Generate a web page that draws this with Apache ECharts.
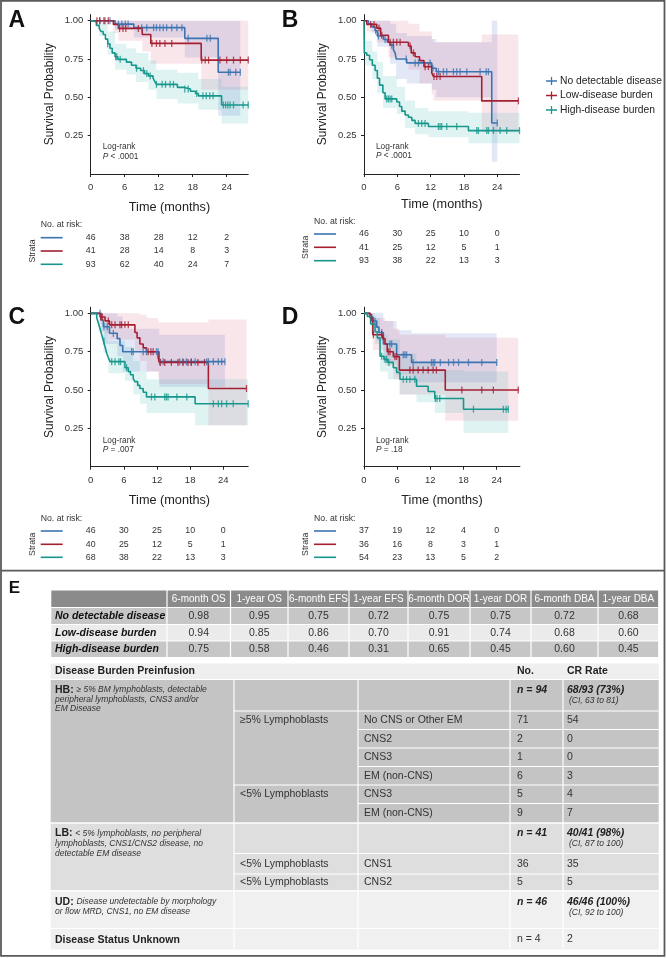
<!DOCTYPE html>
<html><head><meta charset="utf-8">
<script src="https://cdn.jsdelivr.net/npm/echarts@6/dist/echarts.min.js"></script>
<style>html,body{margin:0;padding:0;background:#fff}#c{width:667px;height:958px}</style>
</head><body><div id="c"></div>
<script>
// ---------------- DATA ----------------
const groupNames = ['No detectable disease', 'Low-disease burden', 'High-disease burden'];
const riskTimes = [0, 6, 12, 18, 24];

// Panel A (overall survival): step times, survival, censor times, CI [t, lower, upper]
const aUdT = [0, 4.3, 7.6, 16.6, 22.5];
const aUdS = [1, 0.978, 0.955, 0.885, 0.664];
const aUdCens = [1.6, 2.3, 3.4, 4.9, 5.5, 6.1, 6.6, 9.0, 9.9, 11.1, 11.6, 12.2, 12.8, 13.4, 14.3, 15.2, 16.1, 17.2, 20.5, 21.1, 24.3, 24.6, 25.6, 26.4];
const aUdCi = [[0, 1, 1], [4.3, 0.94, 1], [7.6, 0.89, 1], [16.6, 0.76, 1], [22.5, 0.38, 1]];
const aLbT = [0, 4.0, 4.9, 9.1, 10.6, 19.5];
const aLbS = [1, 0.976, 0.95, 0.91, 0.852, 0.743];
const aLbCens = [1.1, 1.6, 2.5, 3.1, 5.1, 5.7, 6.2, 8.4, 10.8, 11.6, 12.2, 13.1, 14.3, 19.6, 20.2, 20.8, 22.8, 24.0, 25.2, 26.4, 27.8];
const aLbCi = [[0, 1, 1], [4.0, 0.92, 1], [4.9, 0.87, 1], [9.1, 0.8, 1], [10.6, 0.72, 1], [19.5, 0.55, 1]];
const aHbT = [0, 0.5, 1, 1.5, 1.8, 2.2, 2.6, 3, 3.4, 3.8, 4.3, 4.8, 6.3, 7.2, 8, 8.8, 9.5, 10.2, 11, 11.3, 11.6, 15.3, 16.5, 17.6, 18.5, 19, 23.1];
const aHbS = [1, 0.99, 0.97, 0.95, 0.93, 0.91, 0.88, 0.85, 0.82, 0.79, 0.765, 0.748, 0.73, 0.71, 0.69, 0.675, 0.655, 0.64, 0.625, 0.605, 0.585, 0.565, 0.555, 0.54, 0.525, 0.51, 0.45];
const aHbCens = [3.0, 4.4, 4.6, 5.2, 8.1, 9.3, 9.9, 10.5, 11.6, 12.6, 13.2, 14.0, 14.6, 16.6, 17.2, 18.7, 19.8, 20.4, 21.0, 21.6, 23.4, 23.8, 24.2, 24.6, 25.2, 26.9, 27.8];
const aHbCi = [[0, 1, 1], [1.5, 0.9, 0.995], [3, 0.78, 0.93], [4.3, 0.68, 0.85], [6.3, 0.65, 0.82], [8, 0.6, 0.79], [10.2, 0.55, 0.74], [11.6, 0.49, 0.68], [15.3, 0.46, 0.66], [19, 0.42, 0.62], [23.1, 0.33, 0.57]];

// Panel B (event-free survival)
const bUdT = [0, 0.8, 1.4, 2.0, 2.4, 3.5, 4.2, 4.7, 5.3, 5.6, 5.8, 7.7, 12.2, 13.0, 23.0];
const bUdS = [1, 0.98, 0.96, 0.935, 0.9, 0.878, 0.86, 0.84, 0.81, 0.79, 0.75, 0.725, 0.69, 0.667, 0.333];
const bUdCens = [2.1, 2.6, 3.8, 5.0, 7.6, 9.2, 9.8, 11.9, 12.4, 13.4, 14.3, 14.9, 16.1, 16.7, 17.3, 18.5, 20.9, 22.0, 22.4, 24.0];
const bUdCi = [[0, 1, 1], [1.4, 0.92, 1], [2.4, 0.83, 1], [4.7, 0.72, 0.98], [5.8, 0.62, 0.92], [7.7, 0.59, 0.9], [12.2, 0.55, 0.88], [13, 0.5, 0.86], [23, 0.08, 1]];
const bLbT = [0, 0.5, 2.3, 3.0, 4.4, 8.0, 8.5, 9.2, 10.0, 10.8, 12.2, 12.5, 21.2];
const bLbS = [1, 0.976, 0.952, 0.905, 0.86, 0.835, 0.79, 0.765, 0.74, 0.7, 0.66, 0.636, 0.477];
const bLbCens = [1.2, 1.8, 2.7, 3.2, 4.7, 5.3, 5.9, 6.5, 8.3, 8.9, 11.0, 11.6, 12.6, 13.1, 13.7, 27.8];
const bLbCi = [[0, 1, 1], [0.5, 0.93, 1], [2.3, 0.86, 1], [4.4, 0.76, 1], [8, 0.68, 0.98], [10, 0.59, 0.93], [12.2, 0.52, 0.88], [12.5, 0.48, 0.86], [21.2, 0.27, 0.91]];
const bHbT = [0, 0.05, 0.5, 1, 1.5, 2, 2.4, 2.8, 3.4, 3.8, 5.9, 6.4, 6.8, 7.4, 8, 8.6, 9.2, 11.6, 18.8];
const bHbS = [1, 0.79, 0.775, 0.745, 0.71, 0.675, 0.625, 0.58, 0.53, 0.49, 0.47, 0.44, 0.41, 0.385, 0.37, 0.35, 0.33, 0.31, 0.283];
const bHbCens = [4.1, 4.4, 4.7, 5.0, 9.8, 10.4, 11.0, 13.4, 13.7, 14.0, 14.9, 16.7, 20.3, 20.6, 22.1, 22.4, 23.3, 24.5, 25.7, 28.0];
const bHbCi = [[0, 1, 1], [0.05, 0.71, 0.87], [1.5, 0.62, 0.8], [2.4, 0.53, 0.73], [3.4, 0.43, 0.64], [5.9, 0.39, 0.57], [7.4, 0.3, 0.48], [9.2, 0.26, 0.43], [11.6, 0.24, 0.41], [18.8, 0.2, 0.4]];

// Panel C (duration of response)
const cUdT = [0, 1.9, 2.3, 3.4, 4.8, 5.3, 5.8, 12.4];
const cUdS = [1, 0.957, 0.913, 0.87, 0.835, 0.79, 0.75, 0.685];
const cUdCens = [1.7, 2.4, 3.0, 4.1, 7.4, 7.7, 9.5, 10.1, 11.9, 12.2, 12.5, 13.1, 16.1, 16.7, 17.3, 18.2, 18.9, 21.0, 21.3, 22.2, 23.1, 23.7, 24.3];
const cUdCi = [[0, 1, 1], [1.9, 0.88, 1], [2.3, 0.8, 1], [4.8, 0.72, 0.98], [5.8, 0.62, 0.9], [12.4, 0.52, 0.86]];
const cLbT = [0, 1.7, 2.6, 3.4, 8.0, 8.4, 8.9, 9.5, 10.1, 12.2, 12.4, 21.3];
const cLbS = [1, 0.976, 0.951, 0.925, 0.875, 0.84, 0.8, 0.775, 0.75, 0.715, 0.68, 0.51];
const cLbCens = [1.8, 2.1, 3.2, 3.8, 4.4, 5.3, 5.6, 6.2, 6.8, 10.4, 10.9, 11.3, 12.6, 13.4, 14.6, 15.8, 16.7, 17.6, 18.2, 19.4, 20.6, 28.2];
const cLbCi = [[0, 1, 1], [1.7, 0.93, 1], [2.6, 0.87, 1], [3.4, 0.83, 1], [8, 0.76, 1], [8.9, 0.69, 0.99], [10.1, 0.62, 0.97], [12.2, 0.58, 0.95], [12.4, 0.54, 0.94], [21.3, 0.27, 0.96]];
const cHbT = [0, 1.1, 1.4, 1.7, 2.0, 2.3, 2.6, 2.9, 3.2, 3.5, 6.2, 6.8, 7.2, 7.7, 8.0, 8.5, 8.9, 9.5, 10.1, 18.9];
const cHbS = [1, 0.97, 0.935, 0.9, 0.86, 0.82, 0.78, 0.74, 0.71, 0.685, 0.645, 0.62, 0.6, 0.575, 0.555, 0.53, 0.51, 0.485, 0.455, 0.41];
const cHbCens = [2.4, 3.8, 4.4, 5.1, 5.4, 6.5, 11.0, 11.6, 13.4, 13.7, 14.0, 15.6, 17.4, 22.2, 23.1, 23.7, 24.6, 25.8, 28.5];
const cHbCi = [[0, 1, 1], [1.4, 0.88, 1], [2.3, 0.74, 0.94], [3.2, 0.61, 0.82], [6.2, 0.56, 0.78], [7.7, 0.47, 0.69], [8.9, 0.41, 0.62], [10.1, 0.35, 0.57], [18.9, 0.27, 0.57]];

// Panel D (duration of B-cell aplasia)
const dUdT = [0, 1.1, 1.6, 2.3, 2.7, 3.5, 5.9, 8.6];
const dUdS = [1, 0.975, 0.95, 0.91, 0.875, 0.8, 0.73, 0.68];
const dUdCens = [1.4, 2.0, 3.2, 4.7, 5.0, 7.1, 7.4, 7.7, 8.9, 12.2, 12.5, 12.8, 13.8, 15.3, 16.2, 17.1, 18.9, 21.3, 24.0];
const dUdCi = [[0, 1, 1], [1.1, 0.93, 1], [2.3, 0.82, 1], [3.5, 0.68, 0.95], [5.9, 0.6, 0.89], [8.6, 0.55, 0.87]];
const dLbT = [0, 1.1, 1.6, 3.4, 3.8, 4.2, 5.3, 6.4, 14.7];
const dLbS = [1, 0.972, 0.86, 0.835, 0.8, 0.75, 0.718, 0.63, 0.5];
const dLbCens = [1.3, 1.7, 3.2, 4.4, 4.7, 5.6, 5.9, 8.3, 8.9, 9.8, 10.7, 11.6, 12.5, 13.1, 17.7, 21.3, 23.4, 27.9];
const dLbCi = [[0, 1, 1], [1.1, 0.92, 1], [1.6, 0.76, 0.97], [3.8, 0.66, 0.95], [5.3, 0.57, 0.9], [6.4, 0.47, 0.86], [14.7, 0.3, 0.84]];
const dHbT = [0, 0.6, 1.2, 2.0, 2.4, 2.9, 3.6, 4.3, 5.3, 5.9, 6.5, 9.5, 11.6, 12.8, 18.0];
const dHbS = [1, 0.98, 0.93, 0.88, 0.84, 0.72, 0.7, 0.68, 0.645, 0.615, 0.57, 0.525, 0.49, 0.445, 0.375];
const dHbCens = [3.2, 3.8, 4.1, 4.5, 7.1, 7.7, 8.3, 9.2, 12.9, 13.2, 13.7, 19.8, 25.2, 25.7, 26.1];
const dHbCi = [[0, 1, 1], [1.2, 0.87, 1], [2, 0.8, 0.97], [2.9, 0.62, 0.86], [4.3, 0.57, 0.83], [6.5, 0.47, 0.74], [9.5, 0.42, 0.68], [12.8, 0.35, 0.63], [18, 0.22, 0.62]];

// Numbers at risk (rows: no detectable, low, high)
const riskA = [[46, 38, 28, 12, 2], [41, 28, 14, 8, 3], [93, 62, 40, 24, 7]];
const riskB = [[46, 30, 25, 10, 0], [41, 25, 12, 5, 1], [93, 38, 22, 13, 3]];
const riskC = [[46, 30, 25, 10, 0], [40, 25, 12, 5, 1], [68, 38, 22, 13, 3]];
const riskD = [[37, 19, 12, 4, 0], [36, 16, 8, 3, 1], [54, 23, 13, 5, 2]];
const logRankP = ['< .0001', '< .0001', '= .007', '= .18'];

// Panel E – survival estimates table
const estCols = ['6-month OS', '1-year OS', '6-month EFS', '1-year EFS', '6-month DOR', '1-year DOR', '6-month DBA', '1-year DBA'];
const estUd = [0.98, 0.95, 0.75, 0.72, 0.75, 0.75, 0.72, 0.68];
const estLb = [0.94, 0.85, 0.86, 0.70, 0.91, 0.74, 0.68, 0.60];
const estHb = [0.75, 0.58, 0.46, 0.31, 0.65, 0.45, 0.60, 0.45];

// Panel E – CR rate table
const crHeader = ['Disease Burden Preinfusion', 'No.', 'CR Rate'];
const secAbbr = ['HB', 'LB', 'UD'];
const hbDesc = ['≥ 5% BM lymphoblasts, detectable', 'peripheral lymphoblasts, CNS3 and/or', 'EM Disease'];
const lbDesc = ['< 5% lymphoblasts, no peripheral', 'lymphoblasts, CNS1/CNS2 disease, no', 'detectable EM disease'];
const udDesc = ['Disease undetectable by morphology', 'or flow MRD, CNS1, no EM disease'];
const secN = ['n = 94', 'n = 41', 'n = 46'];
const secCr = ['68/93 (73%)', '40/41 (98%)', '46/46 (100%)'];
const secCi = ['(CI, 63 to 81)', '(CI, 87 to 100)', '(CI, 92 to 100)'];
const hbRows = [['≥5% Lymphoblasts', 'No CNS or Other EM', '71', '54'], ['', 'CNS2', '2', '0'], ['', 'CNS3', '1', '0'], ['', 'EM (non-CNS)', '6', '3'], ['<5% Lymphoblasts', 'CNS3', '5', '4'], ['', 'EM (non-CNS)', '9', '7']];
const lbRows = [['<5% Lymphoblasts', 'CNS1', '36', '35'], ['<5% Lymphoblasts', 'CNS2', '5', '5']];
const unknownRow = ['Disease Status Unknown', 'n = 4', '2'];

// ---------------- STYLE / LAYOUT ----------------
const SANS = "'Liberation Sans', Arial, sans-serif";
const COL = { ud: '#3c74b2', lb: '#a51f33', hb: '#16978c' };
const BAND = { ud: 'rgba(80,110,200,0.16)', lb: 'rgba(215,80,110,0.14)', hb: 'rgba(50,175,175,0.15)' };
const groups = ['ud', 'lb', 'hb'];

const panels = [
  { id: 'A', left: 90.7, top: 14.6, h: 159.4, ppm: 5.667, xmax: 27.8, nameGap: 27, letter: [16.7, 21], lr: [102.7, 147],
    curves: { ud: [aUdT, aUdS, aUdCens, aUdCi], lb: [aLbT, aLbS, aLbCens, aLbCi], hb: [aHbT, aHbS, aHbCens, aHbCi] },
    risk: riskA, riskY: [224.3, 237.7, 251, 264.3], riskX: 40.7, strataX: 32.3 },
  { id: 'B', left: 364, top: 14.6, h: 159.4, ppm: 5.554, xmax: 28, nameGap: 24, letter: [290, 21], lr: [376, 146.7],
    curves: { ud: [bUdT, bUdS, bUdCens, bUdCi], lb: [bLbT, bLbS, bLbCens, bLbCi], hb: [bHbT, bHbS, bHbCens, bHbCi] },
    risk: riskB, riskY: [221.7, 234, 247.3, 260.7], riskX: 314, strataX: 305.7 },
  { id: 'C', left: 90.7, top: 307.2, h: 159.5, ppm: 5.525, xmax: 28.5, nameGap: 27, letter: [16.7, 317.5], lr: [102.7, 440.7],
    curves: { ud: [cUdT, cUdS, cUdCens, cUdCi], lb: [cLbT, cLbS, cLbCens, cLbCi], hb: [cHbT, cHbS, cHbCens, cHbCi] },
    risk: riskC, riskY: [518.3, 531, 544.3, 557.3], riskX: 40.7, strataX: 32.3 },
  { id: 'D', left: 364, top: 307.2, h: 159.5, ppm: 5.529, xmax: 28.2, nameGap: 27, letter: [290, 317.5], lr: [376, 440.5],
    curves: { ud: [dUdT, dUdS, dUdCens, dUdCi], lb: [dLbT, dLbS, dLbCens, dLbCi], hb: [dHbT, dHbS, dHbCens, dHbCi] },
    risk: riskD, riskY: [518.3, 531, 544.3, 557.3], riskX: 314, strataX: 305.7 }
];

function survAt(T, S, x) { let v = S[0]; for (let i = 0; i < T.length; i++) if (T[i] <= x) v = S[i]; return v; }

const grids = [], xAxes = [], yAxes = [], series = [], G = [];
function txt(x, y, text, o) {
  o = Object.assign({}, o || {});
  const rot = o.rotation || 0; delete o.rotation;
  return { type: 'text', x: x, y: y, rotation: rot, silent: true, z: 10,
    style: Object.assign({ text: text, fill: '#333', fontSize: 10, fontFamily: SANS, align: 'left', verticalAlign: 'middle' }, o) };
}
function rect(x, y, w, h, fill) {
  return { type: 'rect', silent: true, z: 5, shape: { x: x, y: y, width: w, height: h }, style: { fill: fill } };
}
function seg(x1, y1, x2, y2, stroke, w, z) {
  return { type: 'line', silent: true, z: z || 6, shape: { x1: x1, y1: y1, x2: x2, y2: y2 }, style: { stroke: stroke, lineWidth: w } };
}

// step-shaped confidence band drawn as one polygon through the axis scales
function bandRenderer(rows, fill) {
  return function (params, api) {
    if (params.dataIndex !== 0) return { type: 'group', children: [] };
    const up = [], lo = [];
    for (let k = 0; k < rows.length - 1; k++) {
      up.push(api.coord([rows[k][0], rows[k][2]]), api.coord([rows[k + 1][0], rows[k][2]]));
      lo.push(api.coord([rows[k][0], rows[k][1]]), api.coord([rows[k + 1][0], rows[k][1]]));
    }
    return { type: 'polygon', shape: { points: up.concat(lo.reverse()) }, style: { fill: fill }, silent: true };
  };
}

panels.forEach((p, i) => {
  const width = p.xmax * p.ppm;
  grids.push({ left: p.left, top: p.top, width: width, height: p.h, outerBoundsMode: 'none', containLabel: false });
  xAxes.push({
    type: 'value', gridIndex: i, min: 0, max: p.xmax,
    name: 'Time (months)', nameLocation: 'middle', nameGap: p.nameGap,
    nameTextStyle: { fontSize: 12.7, color: '#222', fontFamily: SANS },
    axisLine: { show: true, onZero: false, lineStyle: { color: '#222', width: 1 } },
    axisTick: { show: true, length: 3, customValues: riskTimes, lineStyle: { color: '#222' } },
    axisLabel: { customValues: riskTimes, fontSize: 9.5, color: '#333', margin: 8.5, fontFamily: SANS },
    splitLine: { show: false }
  });
  yAxes.push({
    type: 'value', gridIndex: i, min: 0, max: 1.04,
    name: 'Survival Probability', nameLocation: 'middle', nameGap: 35,
    nameTextStyle: { fontSize: 12, color: '#222', fontFamily: SANS },
    axisLine: { show: true, lineStyle: { color: '#222', width: 1 } },
    axisTick: { show: true, length: 3, customValues: [0.25, 0.5, 0.75, 1], lineStyle: { color: '#222' } },
    axisLabel: { customValues: [0.25, 0.5, 0.75, 1], formatter: v => v.toFixed(2), fontSize: 9.5, color: '#333', margin: 7.5, fontFamily: SANS },
    splitLine: { show: false }
  });
  groups.forEach(g => {
    const [T, S, Cn, CI] = p.curves[g];
    const end = Math.max(T[T.length - 1], Cn[Cn.length - 1]);
    const last = CI[CI.length - 1];
    const rows = CI.concat([[end, last[1], last[2]]]);
    series.push({ type: 'custom', name: 'ci-' + p.id + g, xAxisIndex: i, yAxisIndex: i, z: 1, silent: true, clip: true,
      data: rows, encode: { x: 0, y: [1, 2] }, renderItem: bandRenderer(rows, BAND[g]) });
  });
  groups.forEach((g, gi) => {
    const [T, S, Cn] = p.curves[g];
    const end = Math.max(T[T.length - 1], Cn[Cn.length - 1]);
    series.push({ type: 'line', name: groupNames[gi], xAxisIndex: i, yAxisIndex: i, step: 'end', symbol: 'none', z: 3,
      color: COL[g], itemStyle: { color: COL[g] }, lineStyle: { color: COL[g], width: 1.6 }, emphasis: { disabled: true },
      data: T.map((t, k) => [t, S[k]]).concat([[end, S[S.length - 1]]]) });
    series.push({ type: 'scatter', name: groupNames[gi], xAxisIndex: i, yAxisIndex: i, symbol: 'rect', symbolSize: [1.3, 7], z: 4,
      color: COL[g], itemStyle: { color: COL[g] }, emphasis: { disabled: true }, silent: true,
      data: Cn.map(c => [c, survAt(T, S, c)]) });
  });
  G.push(txt(p.letter[0], p.letter[1], p.id, { fontSize: 23, fontWeight: 'bold', fill: '#111', align: 'center' }));
  G.push(txt(p.lr[0], p.lr[1], 'Log-rank', { fontSize: 8.3, fill: '#333' }));
  G.push(txt(p.lr[0], p.lr[1] + 9.3, '{i|P} ' + logRankP[i], { fontSize: 8.3, fill: '#333',
    rich: { i: { fontStyle: 'italic', fontSize: 8.3, fontFamily: SANS, fill: '#333' } } }));
  G.push(txt(p.riskX, p.riskY[0], 'No. at risk:', { fontSize: 8.7, fill: '#333' }));
  G.push(txt(p.strataX, p.riskY[2], 'Strata', { fontSize: 8.7, fill: '#333', align: 'center', rotation: Math.PI / 2 }));
  groups.forEach((g, gi) => {
    const y = p.riskY[gi + 1];
    G.push(seg(p.riskX, y, p.riskX + 22, y, COL[g], 1.6));
    p.risk[gi].forEach((n, k) => {
      G.push(txt(p.left + riskTimes[k] * p.ppm, y, String(n), { fontSize: 8.8, fill: '#333', align: 'center' }));
    });
  });
});

// frame and separator
G.push({ type: 'rect', silent: true, z: 0, shape: { x: 1, y: 0.9, width: 663.5, height: 955 }, style: { fill: 'none', stroke: '#5a5a5a', lineWidth: 1.8 } });
G.push(seg(1, 570.7, 664.5, 570.7, '#5a5a5a', 1.8, 0));
G.push(txt(14.3, 588.5, 'E', { fontSize: 17, fontWeight: 'bold', fill: '#111', align: 'center' }));

// ---- Table 1: survival estimates
const t1X = [50.7, 167, 230.5, 288, 349, 408, 470, 531, 598, 658.7];
const t1Y = [590.5, 607.5, 624.5, 641, 657.5];
const t1Rows = [estUd, estLb, estHb];
const t1Fill = ['#c6c6c6', '#ebebeb', '#c6c6c6'];
for (let c = 0; c < t1X.length - 1; c++) {
  G.push(rect(t1X[c] + 0.6, t1Y[0], t1X[c + 1] - t1X[c] - 1.2, t1Y[1] - t1Y[0] - 0.6, '#8b8b8b'));
  if (c > 0) G.push(txt((t1X[c] + t1X[c + 1]) / 2, (t1Y[0] + t1Y[1]) / 2, estCols[c - 1], { fill: '#fff', fontSize: 10, align: 'center' }));
  for (let r = 0; r < 3; r++) {
    G.push(rect(t1X[c] + 0.6, t1Y[r + 1] + 0.6, t1X[c + 1] - t1X[c] - 1.2, t1Y[r + 2] - t1Y[r + 1] - 1.2, t1Fill[r]));
    const cy = (t1Y[r + 1] + t1Y[r + 2]) / 2;
    if (c === 0) G.push(txt(55, cy, groupNames[r], { fill: '#111', fontSize: 10.5, fontWeight: 'bold', fontStyle: 'italic' }));
    else G.push(txt((t1X[c] + t1X[c + 1]) / 2, cy, t1Rows[r][c - 1].toFixed(2), { fill: '#333', fontSize: 10.5, align: 'center' }));
  }
}

// ---- Table 2: CR rate by disease burden
const t2X = [50.7, 234, 358, 510, 563, 658.7];
const xL = 55, xC2 = 240, xC3 = 364, xN = 517, xCR = 567;
const W = t2X[5] - t2X[0];
G.push(rect(t2X[0], 663.5, W, 15.5, '#efefef'));
G.push(txt(xL, 671.5, crHeader[0], { fontSize: 10.5, fontWeight: 'bold', fill: '#222' }));
G.push(txt(xN, 671.5, crHeader[1], { fontSize: 10.5, fontWeight: 'bold', fill: '#222' }));
G.push(txt(xCR, 671.5, crHeader[2], { fontSize: 10.5, fontWeight: 'bold', fill: '#222' }));
const secTop = [680, 823.5, 891];
const secBot = [822.5, 890.5, 928];
const secFill = ['#c4c4c4', '#dedede', '#f0f0f0'];
const secDesc = [hbDesc, lbDesc, udDesc];
const secLineY = [[690, 699.5, 709], [833.3, 843.5, 853.7], [901.7, 911.7]];
for (let s = 0; s < 3; s++) {
  G.push(rect(t2X[0], secTop[s], W, secBot[s] - secTop[s], secFill[s]));
  secDesc[s].forEach((line, k) => {
    const rich = { b: { fontWeight: 'bold', fontSize: 10.5, fill: '#222', fontFamily: SANS }, i: { fontStyle: 'italic', fontSize: 8.5, fill: '#333', fontFamily: SANS } };
    const t = k === 0 ? '{b|' + secAbbr[s] + '}{b|:} {i|' + line + '}' : '{i|' + line + '}';
    G.push(txt(xL, secLineY[s][k], t, { rich: rich }));
  });
  G.push(txt(xN, secLineY[s][0], secN[s], { fontSize: 10.5, fontWeight: 'bold', fontStyle: 'italic', fill: '#222' }));
  G.push(txt(xCR, secLineY[s][0], secCr[s], { fontSize: 10.5, fontWeight: 'bold', fontStyle: 'italic', fill: '#222' }));
  G.push(txt(xCR + 2, secLineY[s][0] + 10.8, secCi[s], { fontSize: 8.5, fontStyle: 'italic', fill: '#333' }));
}
G.push(rect(t2X[0], 929, W, 20.5, '#f0f0f0'));
G.push(txt(xL, 940, unknownRow[0], { fontSize: 10.5, fontWeight: 'bold', fill: '#222' }));
G.push(txt(xN, 939, unknownRow[1], { fontSize: 10.5, fill: '#333' }));
G.push(txt(xCR, 939, unknownRow[2], { fontSize: 10.5, fill: '#333' }));
const hbB = [711, 729.5, 748, 766.5, 785, 803.5, 822.5];
hbRows.forEach((r, k) => {
  const cy = (hbB[k] + hbB[k + 1]) / 2;
  if (r[0]) G.push(txt(xC2, cy, r[0], { fontSize: 10.5, fill: '#333' }));
  G.push(txt(xC3, cy, r[1], { fontSize: 10.5, fill: '#333' }));
  G.push(txt(xN, cy, r[2], { fontSize: 10.5, fill: '#333' }));
  G.push(txt(xCR, cy, r[3], { fontSize: 10.5, fill: '#333' }));
  const x0 = (k === 0 || r[0]) ? t2X[1] : t2X[2];
  G.push(seg(x0, hbB[k], t2X[5], hbB[k], '#fff', 1.2));
});
const lbB = [853.5, 874, 890.5];
lbRows.forEach((r, k) => {
  const cy = (lbB[k] + lbB[k + 1]) / 2;
  G.push(txt(xC2, cy, r[0], { fontSize: 10.5, fill: '#333' }));
  G.push(txt(xC3, cy, r[1], { fontSize: 10.5, fill: '#333' }));
  G.push(txt(xN, cy, r[2], { fontSize: 10.5, fill: '#333' }));
  G.push(txt(xCR, cy, r[3], { fontSize: 10.5, fill: '#333' }));
  G.push(seg(t2X[1], lbB[k], t2X[5], lbB[k], '#fff', 1.2));
});
[1, 2, 3, 4].forEach(c => G.push(seg(t2X[c], 680, t2X[c], 949.5, '#fff', 1.2)));
[679.5, 823, 890.8, 928.5].forEach(y => G.push(seg(t2X[0], y, t2X[5], y, '#fff', 1.2)));

const option = {
  animation: false,
  backgroundColor: '#fff',
  textStyle: { fontFamily: SANS },
  grid: grids, xAxis: xAxes, yAxis: yAxes, series: series,
  legend: {
    data: groupNames, orient: 'vertical', left: 541, top: 70,
    itemWidth: 11, itemHeight: 9, itemGap: 2.5,
    icon: 'path://M0,4.2H14V5.8H0Z M6.2,0H7.8V10H6.2Z',
    textStyle: { fontSize: 10.3, color: '#222', fontFamily: SANS, lineHeight: 12, padding: [0, 0, 0, -2] },
    selectedMode: false
  },
  graphic: G
};
const chart = echarts.init(document.getElementById('c'));
chart.setOption(option);
</script></body></html>
